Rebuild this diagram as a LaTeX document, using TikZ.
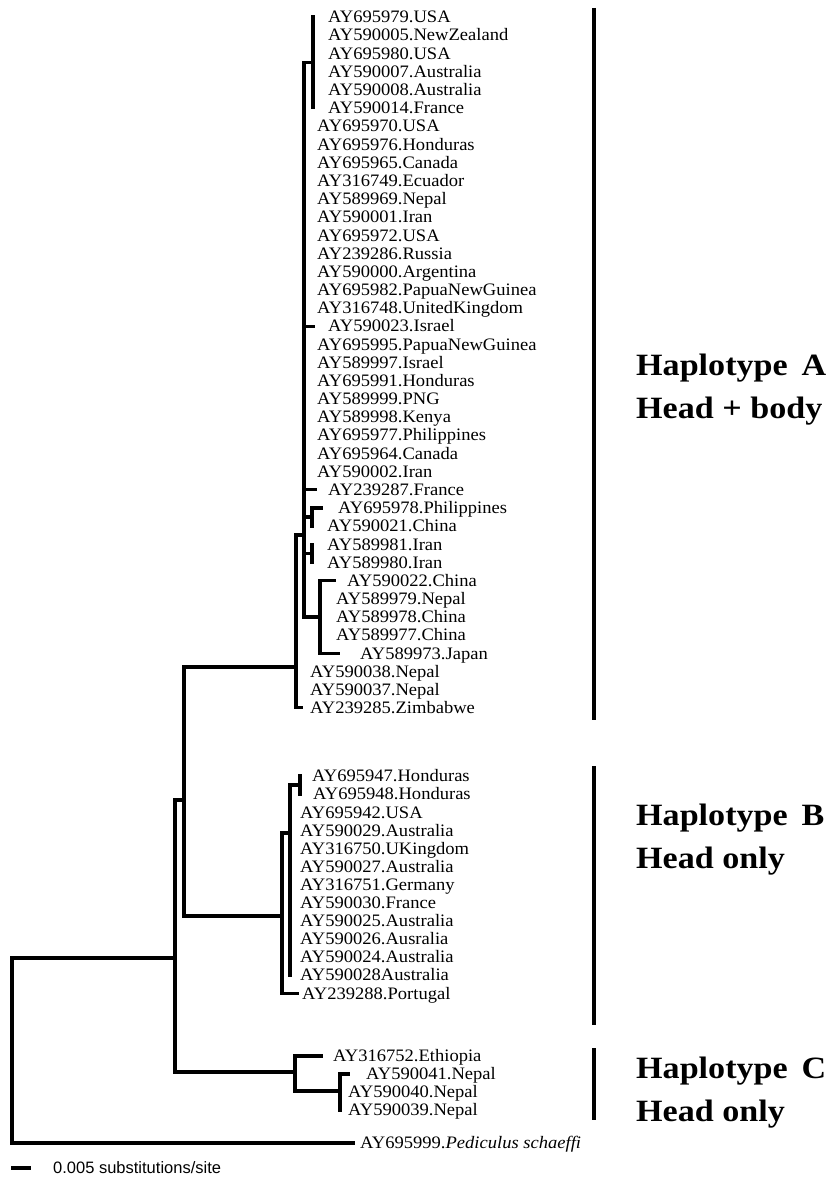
\documentclass[tikz,border=0pt]{standalone}
\usepackage{fontspec}
\setmainfont{Liberation Serif}
\newfontfamily\labfont[FakeStretch=1.06]{Liberation Serif}
\newfontfamily\hapfont[FakeStretch=1.1]{Liberation Serif}
\newfontfamily\sclfont{Liberation Sans}
\begin{document}
\begin{tikzpicture}[x=1pt,y=-1pt,
  branch/.style={line width=3.2pt, line cap=rect, line join=miter},
  leaf/.style={anchor=west, inner sep=0pt, font=\labfont\fontsize{17.5pt}{19pt}\selectfont, text height=11.6pt, text depth=0pt},
  hap/.style={anchor=base west, inner sep=0pt, font=\hapfont\bfseries\fontsize{31pt}{36pt}\selectfont},
  cladebar/.style={line width=4.6pt},
  scaletext/.style={anchor=west, inner sep=0pt, font=\sclfont\fontsize{16.5pt}{18pt}\selectfont, text height=11.8pt, text depth=0pt}]
\useasboundingbox (0,0) rectangle (831,1180);

% ---- internal nodes (x, attachment y)
\coordinate (R)  at (12,1050);
\coordinate (P)  at (175,958);
\coordinate (Q)  at (184,800);
\coordinate (N1) at (296,667);
\coordinate (N2) at (304,535);
\coordinate (T1) at (313,62.5);
\coordinate (N3) at (312,517);
\coordinate (N4) at (312,553.3);
\coordinate (N5) at (320,617);
\coordinate (B1) at (282,916);
\coordinate (B2) at (290,833);
\coordinate (B3) at (300,785);
\coordinate (C1) at (295,1072);
\coordinate (C2) at (340,1091);

% ---- leaves, clade A
\node[leaf] (a1)  at (328,17.0)  {AY695979.USA};
\node[leaf] (a2)  at (328,35.2)  {AY590005.NewZealand};
\node[leaf] (a3)  at (328,53.4)  {AY695980.USA};
\node[leaf] (a4)  at (328,71.5)  {AY590007.Australia};
\node[leaf] (a5)  at (328,89.7)  {AY590008.Australia};
\node[leaf] (a6)  at (328,107.9) {AY590014.France};
\node[leaf] (a7)  at (317,126.1) {AY695970.USA};
\node[leaf] (a8)  at (317,144.3) {AY695976.Honduras};
\node[leaf] (a9)  at (317,162.4) {AY695965.Canada};
\node[leaf] (a10) at (317,180.6) {AY316749.Ecuador};
\node[leaf] (a11) at (317,198.8) {AY589969.Nepal};
\node[leaf] (a12) at (317,217.0) {AY590001.Iran};
\node[leaf] (a13) at (317,235.2) {AY695972.USA};
\node[leaf] (a14) at (317,253.3) {AY239286.Russia};
\node[leaf] (a15) at (317,271.5) {AY590000.Argentina};
\node[leaf] (a16) at (317,289.7) {AY695982.PapuaNewGuinea};
\node[leaf] (a17) at (317,307.9) {AY316748.UnitedKingdom};
\node[leaf] (a18) at (328,326.1) {AY590023.Israel};
\node[leaf] (a19) at (317,344.2) {AY695995.PapuaNewGuinea};
\node[leaf] (a20) at (317,362.4) {AY589997.Israel};
\node[leaf] (a21) at (317,380.6) {AY695991.Honduras};
\node[leaf] (a22) at (317,398.8) {AY589999.PNG};
\node[leaf] (a23) at (317,417.0) {AY589998.Kenya};
\node[leaf] (a24) at (317,435.1) {AY695977.Philippines};
\node[leaf] (a25) at (317,453.3) {AY695964.Canada};
\node[leaf] (a26) at (317,471.5) {AY590002.Iran};
\node[leaf] (a27) at (328,489.7) {AY239287.France};
\node[leaf] (a28) at (338,507.9) {AY695978.Philippines};
\node[leaf] (a29) at (327,526.0) {AY590021.China};
\node[leaf] (a30) at (327,544.2) {AY589981.Iran};
\node[leaf] (a31) at (327,562.4) {AY589980.Iran};
\node[leaf] (a32) at (347,580.6) {AY590022.China};
\node[leaf] (a33) at (336,598.8) {AY589979.Nepal};
\node[leaf] (a34) at (336,616.9) {AY589978.China};
\node[leaf] (a35) at (336,635.1) {AY589977.China};
\node[leaf] (a36) at (360,653.3) {AY589973.Japan};
\node[leaf] (a37) at (310,671.5) {AY590038.Nepal};
\node[leaf] (a38) at (310,689.7) {AY590037.Nepal};
\node[leaf] (a39) at (310,707.8) {AY239285.Zimbabwe};

% ---- leaves, clade B
\node[leaf] (b1)  at (312,776.0) {AY695947.Honduras};
\node[leaf] (b2)  at (313,794.1) {AY695948.Honduras};
\node[leaf] (b3)  at (300,812.2) {AY695942.USA};
\node[leaf] (b4)  at (300,830.3) {AY590029.Australia};
\node[leaf] (b5)  at (300,848.4) {AY316750.UKingdom};
\node[leaf] (b6)  at (300,866.5) {AY590027.Australia};
\node[leaf] (b7)  at (300,884.6) {AY316751.Germany};
\node[leaf] (b8)  at (300,902.7) {AY590030.France};
\node[leaf] (b9)  at (300,920.8) {AY590025.Australia};
\node[leaf] (b10) at (300,938.9) {AY590026.Ausralia};
\node[leaf] (b11) at (300,957.0) {AY590024.Australia};
\node[leaf] (b12) at (300,975.1) {AY590028Australia};
\node[leaf] (b13) at (302,993.2) {AY239288.Portugal};

% ---- leaves, clade C and outgroup
\node[leaf] (c1) at (333,1056) {AY316752.Ethiopia};
\node[leaf] (c2) at (366,1074) {AY590041.Nepal};
\node[leaf] (c3) at (348,1092) {AY590040.Nepal};
\node[leaf] (c4) at (348,1110) {AY590039.Nepal};
\node[leaf] (ped) at (360,1143) {AY695999.\textit{Pediculus schaeffi}};

% ---- vertical lines of internal nodes
\draw[branch] (R |- P) -- (R |- ped);
\draw[branch] (P |- Q) -- (P |- C1);
\draw[branch] (Q |- N1) -- (Q |- B1);
\draw[branch] (N1 |- N2) -- (N1 |- a39);
\draw[branch] (N2 |- T1) -- (N2 |- N5);
\draw[branch] (T1 |- a1) -- (T1 |- a6);
\draw[branch] (N3 |- a28) -- (N3 |- a29);
\draw[branch] (N4 |- a30) -- (N4 |- a31);
\draw[branch] (N5 |- a32) -- (N5 |- a36);
\draw[branch] (B1 |- B2) -- (B1 |- b13);
\draw[branch] (B2 |- B3) -- (B2 |- b12);
\draw[branch] (B3 |- b1) -- (B3 |- b2);
\draw[branch] (C1 |- c1) -- (C1 |- C2);
\draw[branch] (C2 |- c2) -- (C2 |- c4);

% ---- horizontal branches
\draw[branch] (R |- P) -- (P);
\draw[branch] (R |- ped) -- ([xshift=-7pt]ped.west);
\draw[branch] (P |- Q) -- (Q);
\draw[branch] (P |- C1) -- (C1);
\draw[branch] (Q |- N1) -- (N1);
\draw[branch] (Q |- B1) -- (B1);
\draw[branch] (N1 |- N2) -- (N2);
\draw[branch] (N1 |- a39) -- ([xshift=-9pt]a39.west);
\draw[branch] (N2 |- T1) -- (T1);
\draw[branch] (N2 |- a18) -- ([xshift=-15pt]a18.west);
\draw[branch] (N2 |- a27) -- ([xshift=-13pt]a27.west);
\draw[branch] (N2 |- N3) -- (N3);
\draw[branch] (N2 |- N4) -- (N4);
\draw[branch] (N2 |- N5) -- (N5);
\draw[branch] (N3 |- a28) -- ([xshift=-17pt]a28.west);
\draw[branch] (N5 |- a32) -- ([xshift=-13pt]a32.west);
\draw[branch] (N5 |- a36) -- ([xshift=-22pt]a36.west);
\draw[branch] (B1 |- B2) -- (B2);
\draw[branch] (B1 |- b13) -- ([xshift=-5pt]b13.west);
\draw[branch] (B2 |- B3) -- (B3);
\draw[branch] (C1 |- c1) -- ([xshift=-12pt]c1.west);
\draw[branch] (C1 |- C2) -- (C2);
\draw[branch] (C2 |- c2) -- ([xshift=-18pt]c2.west);

% ---- clade bars and labels
\coordinate (barA1) at (594,8);    \coordinate (barA2) at (594,720);
\coordinate (barB1) at (594,766);  \coordinate (barB2) at (594,1025);
\coordinate (barC1) at (594,1048); \coordinate (barC2) at (594,1120);
\draw[cladebar] (barA1) -- (barA2);
\draw[cladebar] (barB1) -- (barB2);
\draw[cladebar] (barC1) -- (barC2);

\node[hap] (hA1) at (636,375) {Haplotype\hspace{0.45em}A};
\node[hap] (hA2) at (636,418) {Head + body};
\node[hap] (hB1) at (636,825) {Haplotype\hspace{0.45em}B};
\node[hap] (hB2) at (636,868) {Head only};
\node[hap] (hC1) at (636,1078) {Haplotype\hspace{0.45em}C};
\node[hap] (hC2) at (636,1121) {Head only};

% ---- scale bar
\coordinate (sb1) at (11,1168);
\coordinate (sb2) at (31,1168);
\draw[branch, line cap=butt] (sb1) -- (sb2);
\node[scaletext] (sbt) at (53,1168) {0.005 substitutions/site};
\end{tikzpicture}
\end{document}
